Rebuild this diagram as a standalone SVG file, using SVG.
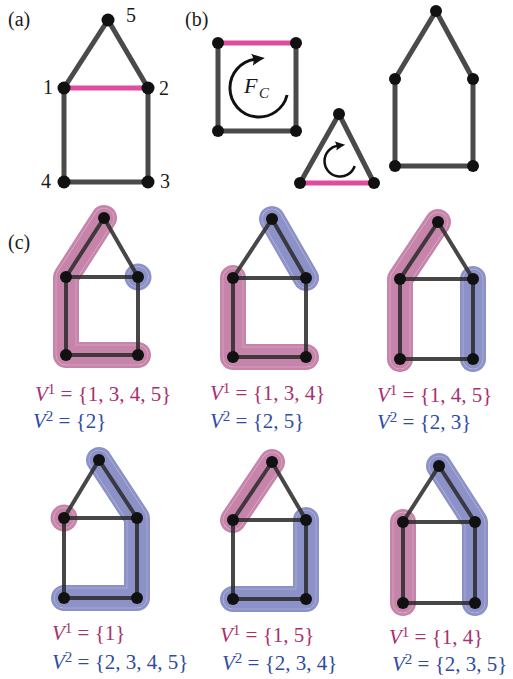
<svg xmlns="http://www.w3.org/2000/svg" width="513" height="679" viewBox="0 0 513 679">
<defs>
<marker id="ah" markerUnits="userSpaceOnUse" markerWidth="16" markerHeight="14" refX="3" refY="6" orient="auto" viewBox="0 0 16 12">
<path d="M0,0 Q7,4 13,6 Q7,8 0,12 Q3,6 0,0 Z" fill="#111"/>
</marker>
<marker id="ahs" markerUnits="userSpaceOnUse" markerWidth="12" markerHeight="10" refX="3" refY="6" orient="auto" viewBox="0 0 16 12">
<path d="M0,0 Q7,4 13,6 Q7,8 0,12 Q3,6 0,0 Z" fill="#111"/>
</marker>
</defs>
<rect width="513" height="679" fill="#fff"/>

<!-- panel labels -->
<g id="panel-labels" fill="#1a1a1a">
<text font-family="Liberation Serif" font-size="20" x="8" y="26">(a)</text>
<text font-family="Liberation Serif" font-size="20" x="185" y="26">(b)</text>
<text font-family="Liberation Serif" font-size="20" x="8" y="249">(c)</text>
</g>

<!-- (a) -->
<g id="a-edges" fill="none" stroke="#4a4a4a" stroke-width="5" stroke-linecap="round">
<path d="M108,20 L64,88 M108,20 L148,88 M64,88 L64,182 M148,88 L148,182 M64,182 L148,182"/>
<path stroke="#df4c9f" d="M64,88 L148,88"/>
</g>
<g fill="#111">
<g id="a-n5"><circle cx="108" cy="20" r="6.5"/><text font-family="Liberation Serif" font-size="20" fill="#1a1a1a" x="126" y="22">5</text></g>
<g id="a-n1"><circle cx="64" cy="88" r="6.5"/><text font-family="Liberation Serif" font-size="20" fill="#1a1a1a" x="43" y="94">1</text></g>
<g id="a-n2"><circle cx="148" cy="88" r="6.5"/><text font-family="Liberation Serif" font-size="20" fill="#1a1a1a" x="159" y="95">2</text></g>
<g id="a-n4"><circle cx="64" cy="182" r="6.5"/><text font-family="Liberation Serif" font-size="20" fill="#1a1a1a" x="41" y="188">4</text></g>
<g id="a-n3"><circle cx="148" cy="182" r="6.5"/><text font-family="Liberation Serif" font-size="20" fill="#1a1a1a" x="160" y="188">3</text></g>
</g>

<!-- (b) -->
<g id="b-edges" fill="none" stroke="#4a4a4a" stroke-width="5" stroke-linecap="round">
<path d="M218,43 L218,131 L296,131 L296,43"/>
<path stroke="#df4c9f" d="M218,43 L296,43"/>
<path d="M300,183 L339,114 L374,183"/>
<path stroke="#df4c9f" d="M300,183 L374,183"/>
<path d="M395,79 L436,11 L473,79 L473,166 L395,166 Z"/>
</g>
<g id="b-fc">
<path fill="none" stroke="#111" stroke-width="3" d="M287.1,95 A29,29 0 1 1 254.96,59.3" marker-end="url(#ah)"/>
<text font-family="Liberation Serif" x="244" y="93" font-size="22" font-style="italic" fill="#1a1a1a">F</text><text font-family="Liberation Serif" x="259" y="98" font-size="15" font-style="italic" fill="#1a1a1a">C</text>
</g>
<g id="b-ft">
<path fill="none" stroke="#111" stroke-width="2.5" d="M354.7,166 A15.5,15.5 0 1 1 337.8,145.7" marker-end="url(#ahs)"/>
</g>
<g fill="#111">
<g id="b-s1"><circle cx="218" cy="43" r="6"/></g>
<g id="b-s2"><circle cx="296" cy="43" r="6"/></g>
<g id="b-s3"><circle cx="218" cy="131" r="6"/></g>
<g id="b-s4"><circle cx="296" cy="131" r="6"/></g>
<g id="b-t1"><circle cx="339" cy="114" r="6"/></g>
<g id="b-t2"><circle cx="300" cy="183" r="6"/></g>
<g id="b-t3"><circle cx="374" cy="183" r="6"/></g>
<g id="b-h5"><circle cx="436" cy="11" r="6"/></g>
<g id="b-h1"><circle cx="395" cy="79" r="6"/></g>
<g id="b-h2"><circle cx="473" cy="79" r="6"/></g>
<g id="b-h4"><circle cx="395" cy="166" r="6"/></g>
<g id="b-h3"><circle cx="473" cy="166" r="6"/></g>
</g>

<!-- (c) highlights -->
<g id="c-highlights" fill="none" stroke-linecap="round" stroke-linejoin="round">
<g id="hl-pink" stroke="#c784aa">
<g stroke-width="26">
<path d="M104,218 L66,277 L66,355 L138,355"/><path d="M233,278 L233,357 L306,357"/><path d="M438,222 L400,279 L400,359"/><path d="M272,462 L233,520"/><path d="M403,522 L403,603"/>
</g>
<g stroke="#fff" stroke-opacity="0.45" stroke-width="20.5">
<path d="M104,218 L66,277 L66,355 L138,355"/><path d="M233,278 L233,357 L306,357"/><path d="M438,222 L400,279 L400,359"/><path d="M272,462 L233,520"/><path d="M403,522 L403,603"/>
</g>
<g stroke-width="19.5">
<path d="M104,218 L66,277 L66,355 L138,355"/><path d="M233,278 L233,357 L306,357"/><path d="M438,222 L400,279 L400,359"/><path d="M272,462 L233,520"/><path d="M403,522 L403,603"/>
</g>
<circle cx="64" cy="518" r="13.5" fill="#c784aa" stroke="none"/>
<circle cx="64" cy="518" r="10.5" stroke="#fff" stroke-opacity="0.45" stroke-width="0.6"/>
</g>
<g id="hl-blue" stroke="#8c91c8">
<g stroke-width="26">
<path d="M272,219 L306,278"/><path d="M473,279 L473,359"/><path d="M99,460 L137,518 L137,598 L64,598"/><path d="M306,520 L306,599 L233,599"/><path d="M439,466 L475,522 L475,603"/>
</g>
<g stroke="#fff" stroke-opacity="0.45" stroke-width="20.5">
<path d="M272,219 L306,278"/><path d="M473,279 L473,359"/><path d="M99,460 L137,518 L137,598 L64,598"/><path d="M306,520 L306,599 L233,599"/><path d="M439,466 L475,522 L475,603"/>
</g>
<g stroke-width="19.5">
<path d="M272,219 L306,278"/><path d="M473,279 L473,359"/><path d="M99,460 L137,518 L137,598 L64,598"/><path d="M306,520 L306,599 L233,599"/><path d="M439,466 L475,522 L475,603"/>
</g>
<circle cx="138" cy="277" r="13.5" fill="#8c91c8" stroke="none"/>
<circle cx="138" cy="277" r="10.5" stroke="#fff" stroke-opacity="0.45" stroke-width="0.6"/>
</g>
</g>

<!-- (c) edges -->
<g id="c-edges" fill="none" stroke="#2e2e2e" stroke-width="4" stroke-opacity="0.88" stroke-linecap="round">
<path d="M104,218 L66,277 M104,218 L138,277 M66,277 L138,277 M66,277 L66,355 M138,277 L138,355 M66,355 L138,355"/>
<path d="M272,219 L233,278 M272,219 L306,278 M233,278 L306,278 M233,278 L233,357 M306,278 L306,357 M233,357 L306,357"/>
<path d="M438,222 L400,279 M438,222 L473,279 M400,279 L473,279 M400,279 L400,359 M473,279 L473,359 M400,359 L473,359"/>
<path d="M99,460 L64,518 M99,460 L137,518 M64,518 L137,518 M64,518 L64,598 M137,518 L137,598 M64,598 L137,598"/>
<path d="M272,462 L233,520 M272,462 L306,520 M233,520 L306,520 M233,520 L233,599 M306,520 L306,599 M233,599 L306,599"/>
<path d="M439,466 L403,522 M439,466 L475,522 M403,522 L475,522 M403,522 L403,603 M475,522 L475,603 M403,603 L475,603"/>
</g>

<!-- (c) nodes -->
<g fill="#111">
<g id="c1-n5"><circle cx="104" cy="218" r="6"/></g>
<g id="c1-n1"><circle cx="66" cy="277" r="6"/></g>
<g id="c1-n2"><circle cx="138" cy="277" r="6"/></g>
<g id="c1-n4"><circle cx="66" cy="355" r="6"/></g>
<g id="c1-n3"><circle cx="138" cy="355" r="6"/></g>
<g id="c2-n5"><circle cx="272" cy="219" r="6"/></g>
<g id="c2-n1"><circle cx="233" cy="278" r="6"/></g>
<g id="c2-n2"><circle cx="306" cy="278" r="6"/></g>
<g id="c2-n4"><circle cx="233" cy="357" r="6"/></g>
<g id="c2-n3"><circle cx="306" cy="357" r="6"/></g>
<g id="c3-n5"><circle cx="438" cy="222" r="6"/></g>
<g id="c3-n1"><circle cx="400" cy="279" r="6"/></g>
<g id="c3-n2"><circle cx="473" cy="279" r="6"/></g>
<g id="c3-n4"><circle cx="400" cy="359" r="6"/></g>
<g id="c3-n3"><circle cx="473" cy="359" r="6"/></g>
<g id="c4-n5"><circle cx="99" cy="460" r="6"/></g>
<g id="c4-n1"><circle cx="64" cy="518" r="6"/></g>
<g id="c4-n2"><circle cx="137" cy="518" r="6"/></g>
<g id="c4-n4"><circle cx="64" cy="598" r="6"/></g>
<g id="c4-n3"><circle cx="137" cy="598" r="6"/></g>
<g id="c5-n5"><circle cx="272" cy="462" r="6"/></g>
<g id="c5-n1"><circle cx="233" cy="520" r="6"/></g>
<g id="c5-n2"><circle cx="306" cy="520" r="6"/></g>
<g id="c5-n4"><circle cx="233" cy="599" r="6"/></g>
<g id="c5-n3"><circle cx="306" cy="599" r="6"/></g>
<g id="c6-n5"><circle cx="439" cy="466" r="6"/></g>
<g id="c6-n1"><circle cx="403" cy="522" r="6"/></g>
<g id="c6-n2"><circle cx="475" cy="522" r="6"/></g>
<g id="c6-n4"><circle cx="403" cy="603" r="6"/></g>
<g id="c6-n3"><circle cx="475" cy="603" r="6"/></g>
</g>

<!-- (c) labels -->
<g id="c-labels-v1" fill="#a8306f">
<text font-family="Liberation Serif" font-size="21" x="35" y="401"><tspan font-style="italic">V</tspan><tspan dy="-7" font-size="15">1</tspan><tspan dy="7"> = {1, 3, 4, 5}</tspan></text>
<text font-family="Liberation Serif" font-size="21" x="210" y="400"><tspan font-style="italic">V</tspan><tspan dy="-7" font-size="15">1</tspan><tspan dy="7"> = {1, 3, 4}</tspan></text>
<text font-family="Liberation Serif" font-size="21" x="377" y="402"><tspan font-style="italic">V</tspan><tspan dy="-7" font-size="15">1</tspan><tspan dy="7"> = {1, 4, 5}</tspan></text>
<text font-family="Liberation Serif" font-size="21" x="52" y="640"><tspan font-style="italic">V</tspan><tspan dy="-7" font-size="15">1</tspan><tspan dy="7"> = {1}</tspan></text>
<text font-family="Liberation Serif" font-size="21" x="220" y="642"><tspan font-style="italic">V</tspan><tspan dy="-7" font-size="15">1</tspan><tspan dy="7"> = {1, 5}</tspan></text>
<text font-family="Liberation Serif" font-size="21" x="389" y="644"><tspan font-style="italic">V</tspan><tspan dy="-7" font-size="15">1</tspan><tspan dy="7"> = {1, 4}</tspan></text>
</g>
<g id="c-labels-v2" fill="#2f4c9f">
<text font-family="Liberation Serif" font-size="21" x="33" y="428"><tspan font-style="italic">V</tspan><tspan dy="-7" font-size="15">2</tspan><tspan dy="7"> = {2}</tspan></text>
<text font-family="Liberation Serif" font-size="21" x="210" y="428"><tspan font-style="italic">V</tspan><tspan dy="-7" font-size="15">2</tspan><tspan dy="7"> = {2, 5}</tspan></text>
<text font-family="Liberation Serif" font-size="21" x="377" y="429"><tspan font-style="italic">V</tspan><tspan dy="-7" font-size="15">2</tspan><tspan dy="7"> = {2, 3}</tspan></text>
<text font-family="Liberation Serif" font-size="21" x="52" y="669"><tspan font-style="italic">V</tspan><tspan dy="-7" font-size="15">2</tspan><tspan dy="7"> = {2, 3, 4, 5}</tspan></text>
<text font-family="Liberation Serif" font-size="21" x="222" y="670"><tspan font-style="italic">V</tspan><tspan dy="-7" font-size="15">2</tspan><tspan dy="7"> = {2, 3, 4}</tspan></text>
<text font-family="Liberation Serif" font-size="21" x="392" y="671"><tspan font-style="italic">V</tspan><tspan dy="-7" font-size="15">2</tspan><tspan dy="7"> = {2, 3, 5}</tspan></text>
</g>
</svg>
